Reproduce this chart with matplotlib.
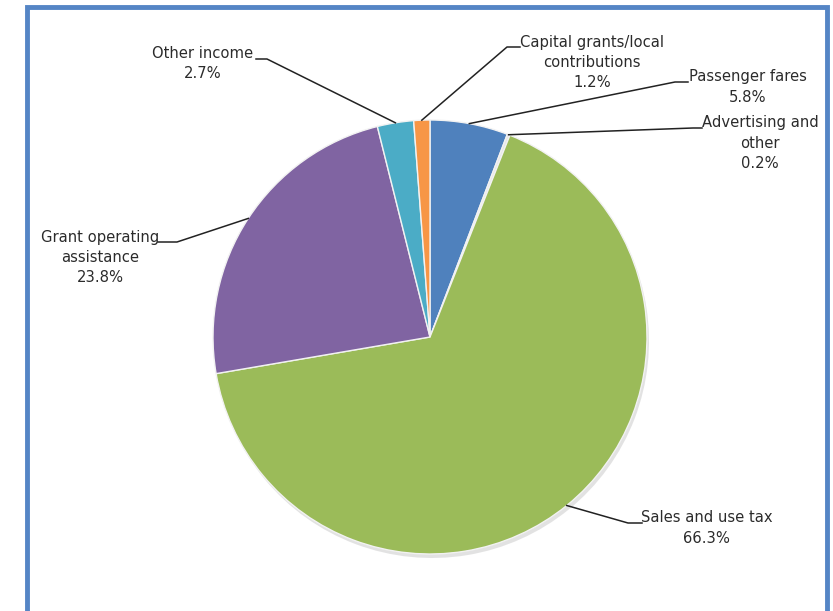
import numpy as np
import matplotlib
matplotlib.use("Agg")
import matplotlib.pyplot as plt
from matplotlib.patches import Rectangle

# ---- data ----
categories = ["Passenger fares", "Advertising and\nother", "Sales and use tax",
              "Grant operating\nassistance", "Other income",
              "Capital grants/local\ncontributions"]
values = [5.8, 0.2, 66.3, 23.8, 2.7, 1.2]
colors = ["#4F81BD", "#E6E6E6", "#9BBB59", "#8064A2", "#4BACC6", "#F79646"]

# label layout in pixel coords:
# (text centre x, text block centre y, stub start x, stub end x, stub y)
label_layout = [
    (748, 87, 688, 675, 82),
    (760, 143, 702, 693, 128),
    (707, 528, 642, 628, 523),
    (100, 257.5, 158, 177, 242),
    (203, 63.5, 256, 267, 59),
    (592, 62.5, 520, 507, 47),
]

W, H = 833, 611
fig = plt.figure(figsize=(W / 100, H / 100), dpi=100)
ax = fig.add_axes([0, 0, 1, 1])

# frame
ax.add_patch(Rectangle((27, -10), 800, H - 7 + 10, fill=False,
                       edgecolor="#5585C5", linewidth=3.5, zorder=0))

cx, cy, R = 430, H - 337, 217
# soft shadow
ax.pie(values, colors=["#d0d0d0"] * len(values), startangle=90, counterclock=False,
       center=(cx + 2, cy - 4), radius=R, frame=True,
       wedgeprops=dict(linewidth=0, alpha=0.6))
wedges, _ = ax.pie(values, colors=colors, startangle=90, counterclock=False,
                   center=(cx, cy), radius=R, frame=True,
                   wedgeprops=dict(edgecolor="#f2f2f2", linewidth=1.0))
ax.set_xlim(0, W)
ax.set_ylim(0, H)
ax.set_aspect("equal")
ax.axis("off")

for w, cat, v, (tx, ty, sx0, sx1, sy) in zip(wedges, categories, values, label_layout):
    mid = np.deg2rad((w.theta1 + w.theta2) / 2)
    px = cx + R * np.cos(mid)
    py = cy + R * np.sin(mid)
    ax.plot([sx0, sx1, px], [H - sy, H - sy, py], color="#222222", lw=1.1, zorder=5)
    ax.text(tx, H - ty, f"{cat}\n{v:.1f}%", ha="center", va="center",
            multialignment="center", fontsize=10.6, color="#2b2b2b",
            linespacing=1.42, family="DejaVu Sans")

fig.savefig("out.png", dpi=100, facecolor="white")
